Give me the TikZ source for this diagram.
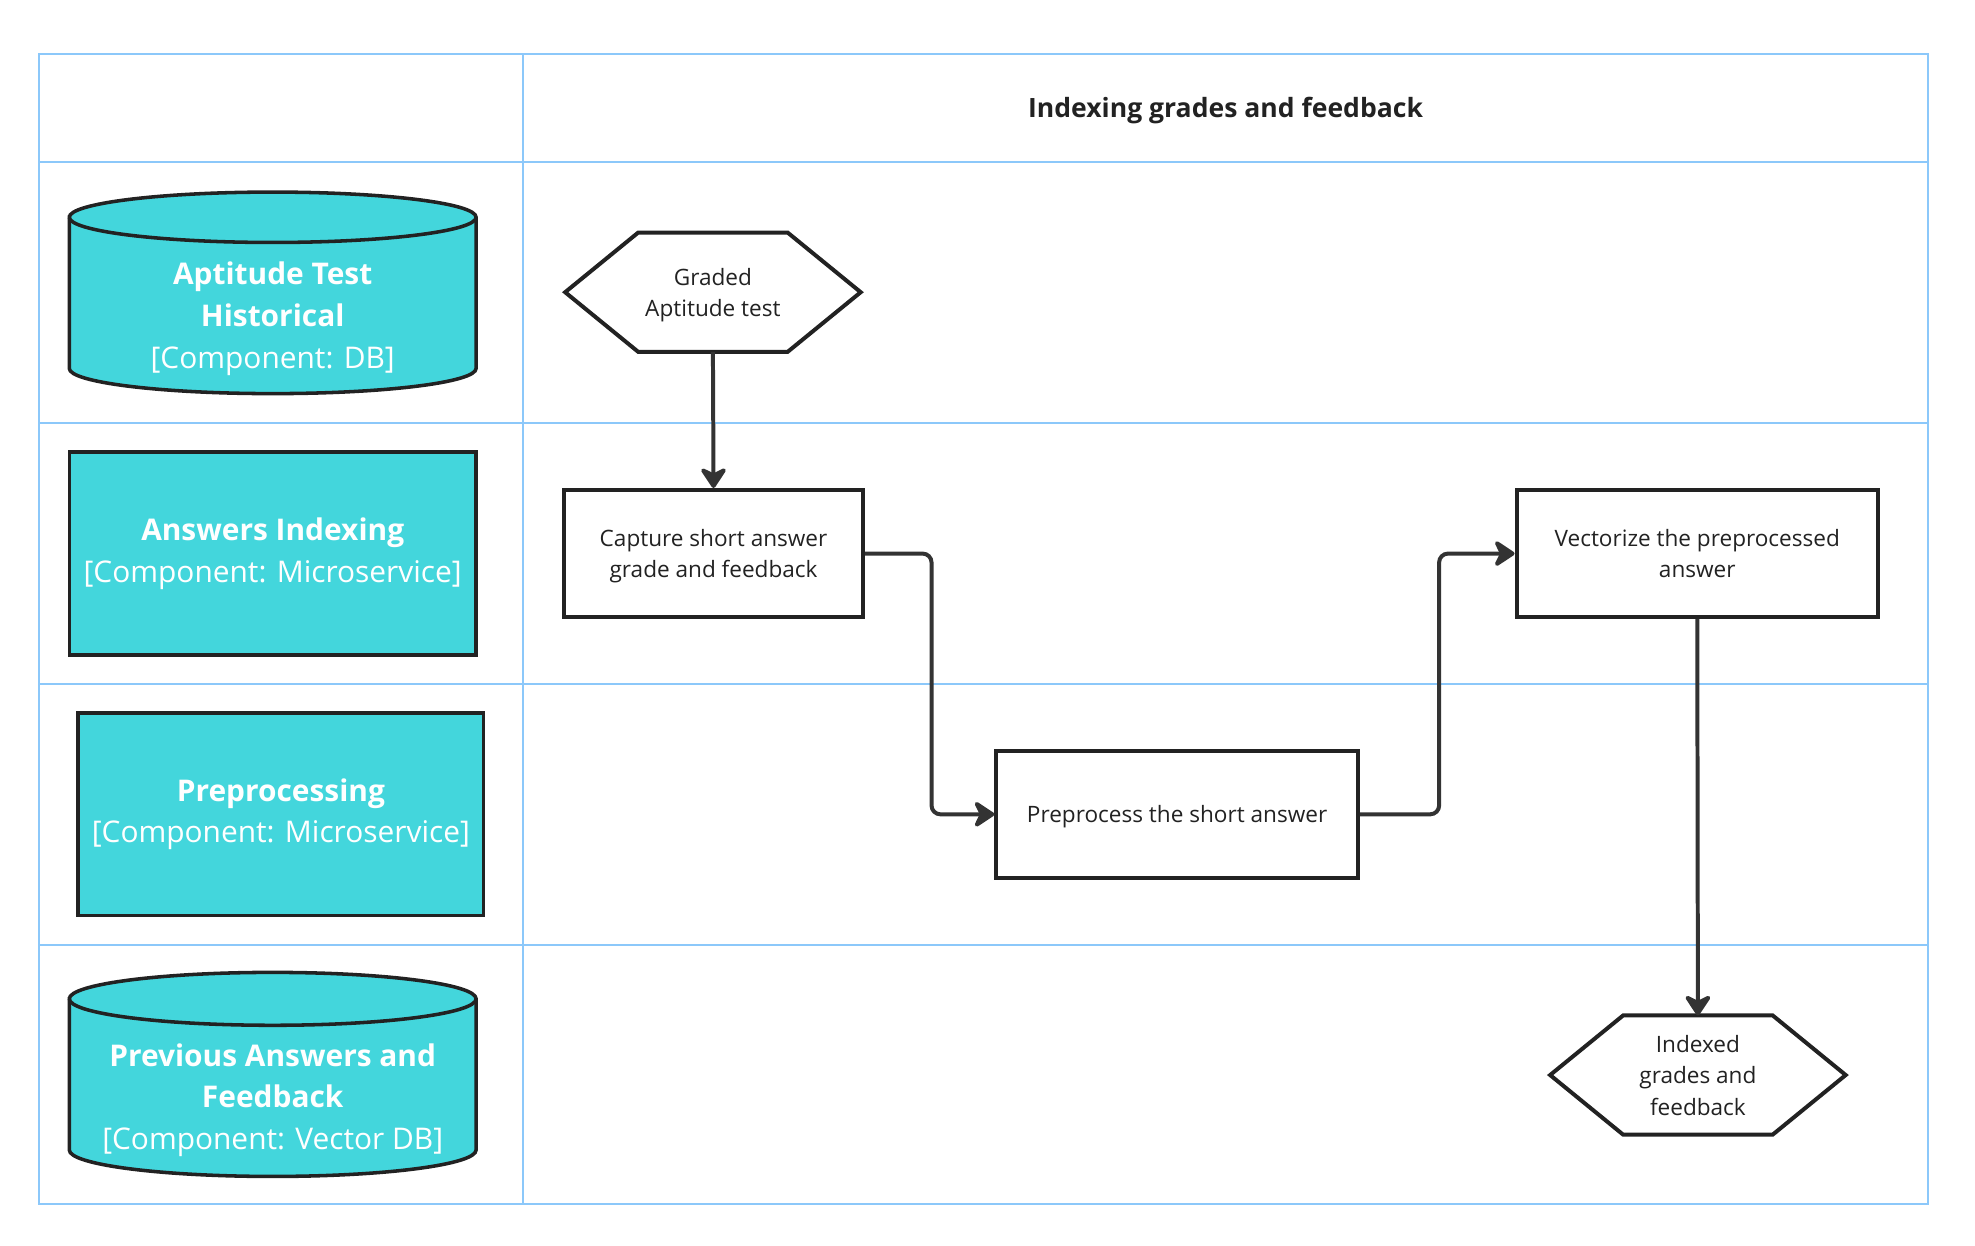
\documentclass[tikz,border=0pt]{standalone}
\usepackage{fontspec}
\setmainfont{Open Sans}
\usetikzlibrary{
  arrows.meta,
  positioning,
  calc,
}
\definecolor{compfill}{RGB}{67,214,220}
\definecolor{laneblue}{RGB}{140,200,250}
\definecolor{edgedark}{RGB}{34,34,34}
\definecolor{arrowcol}{RGB}{51,51,51}
\tikzset{
  laneline/.style={draw=laneblue, line width=0.9pt},
  compbox/.style={
    rectangle, draw=edgedark, fill=compfill, line width=1.6pt,
    minimum width=6.46cm, minimum height=3.22cm, inner sep=0pt,
    align=center, text=white, font=\fontsize{13.5}{18.8}\selectfont
  },
  dbshape/.style={draw=edgedark, fill=compfill, line width=1.6pt},
  dbtext/.style={
    align=center, text=white, inner sep=0pt,
    font=\fontsize{13.5}{18.8}\selectfont
  },
  procbox/.style={
    rectangle, draw=edgedark, fill=white, line width=1.8pt,
    minimum height=2.02cm, align=center, text=edgedark, text depth=0pt,
    font=\fontsize{10.2}{14.2}\selectfont
  },
  hexnode/.style={
    minimum width=4.68cm, minimum height=1.88cm, inner sep=0pt,
    align=center, text=edgedark, text depth=0pt,
    font=\fontsize{10.2}{14.2}\selectfont
  },
  hexline/.style={draw=edgedark, line width=1.8pt},
  flowarrow/.style={
    -{Stealth[length=3.8mm, width=5mm, inset=1.2mm, round]},
    line width=1.8pt, arrowcol, rounded corners=4pt
  },
  headtext/.style={text=edgedark, font=\bfseries\fontsize{12}{15}\selectfont},
}

\begin{document}
\begin{tikzpicture}[x=0.02cm, y=-0.02cm]

  \useasboundingbox (0,0) rectangle (1568,989);

  % ── Swimlane grid ──
  \draw[laneline] (31,43) rectangle (1531,956);
  \draw[laneline] (415,43) -- (415,956);
  \foreach \ly in {129,336,543,750}
    \draw[laneline] (31,\ly) -- (1531,\ly);

  \node[headtext] (lanehead) at (973,88) {Indexing grades and feedback};

  % ── Components ──
  \draw[dbshape] (55,172.5) -- (55,292.5)
    arc[start angle=180, end angle=0, x radius=161.5, y radius=20]
    -- (378,172.5)
    arc[start angle=0, end angle=-180, x radius=161.5, y radius=20] -- cycle;
  \draw[dbshape, fill=none] (55,172.5)
    arc[start angle=180, end angle=0, x radius=161.5, y radius=20];
  \node[dbtext] (histdb) at (216.5,253)
    {\textbf{Aptitude Test}\\\textbf{Historical}\\{[Component: DB]}};

  \node[compbox] (idxsvc) at (216.5,439.5)
    {\textbf{Answers Indexing}\\{[Component: Microservice]}};
  \node[compbox, minimum width=6.44cm] (prepsvc) at (223,646.5)
    {\textbf{Preprocessing}\\{[Component: Microservice]}};

  \draw[dbshape] (55,793) -- (55,913)
    arc[start angle=180, end angle=0, x radius=161.5, y radius=21]
    -- (378,793)
    arc[start angle=0, end angle=-180, x radius=161.5, y radius=21] -- cycle;
  \draw[dbshape, fill=none] (55,793)
    arc[start angle=180, end angle=0, x radius=161.5, y radius=21];
  \node[dbtext] (vecdb) at (216.5,873.5)
    {\textbf{Previous Answers and}\\\textbf{Feedback}\\{[Component: Vector DB]}};

  % ── Flow steps ──
  \node[hexnode] (graded) at (566,232) {Graded\\Aptitude test};
  \draw[hexline] (graded.west) -- ([xshift=1.16cm]graded.north west)
    -- ([xshift=-1.16cm]graded.north east) -- (graded.east)
    -- ([xshift=-1.16cm]graded.south east) -- ([xshift=1.16cm]graded.south west) -- cycle;

  \node[procbox, minimum width=4.74cm] (capture) at (566.5,439.5)
    {Capture short answer\\grade and feedback};
  \node[procbox, minimum width=5.74cm] (preproc) at (934.5,646.5)
    {Preprocess the short answer};
  \node[procbox, minimum width=5.74cm] (vectorize) at (1347.5,439.5)
    {Vectorize the preprocessed\\answer};

  \node[hexnode] (indexed) at (1348,853.5) {Indexed\\grades and\\feedback};
  \draw[hexline] (indexed.west) -- ([xshift=1.16cm]indexed.north west)
    -- ([xshift=-1.16cm]indexed.north east) -- (indexed.east)
    -- ([xshift=-1.16cm]indexed.south east) -- ([xshift=1.16cm]indexed.south west) -- cycle;

  % ── Connectors ──
  \draw[flowarrow] (graded.south) -- (capture.north);
  \draw[flowarrow] (capture.east) -- ++(53,0) |- (preproc.west);
  \draw[flowarrow] (preproc.east) -- ++(63,0) |- (vectorize.west);
  \draw[flowarrow] (vectorize.south) -- (indexed.north);

\end{tikzpicture}
\end{document}
